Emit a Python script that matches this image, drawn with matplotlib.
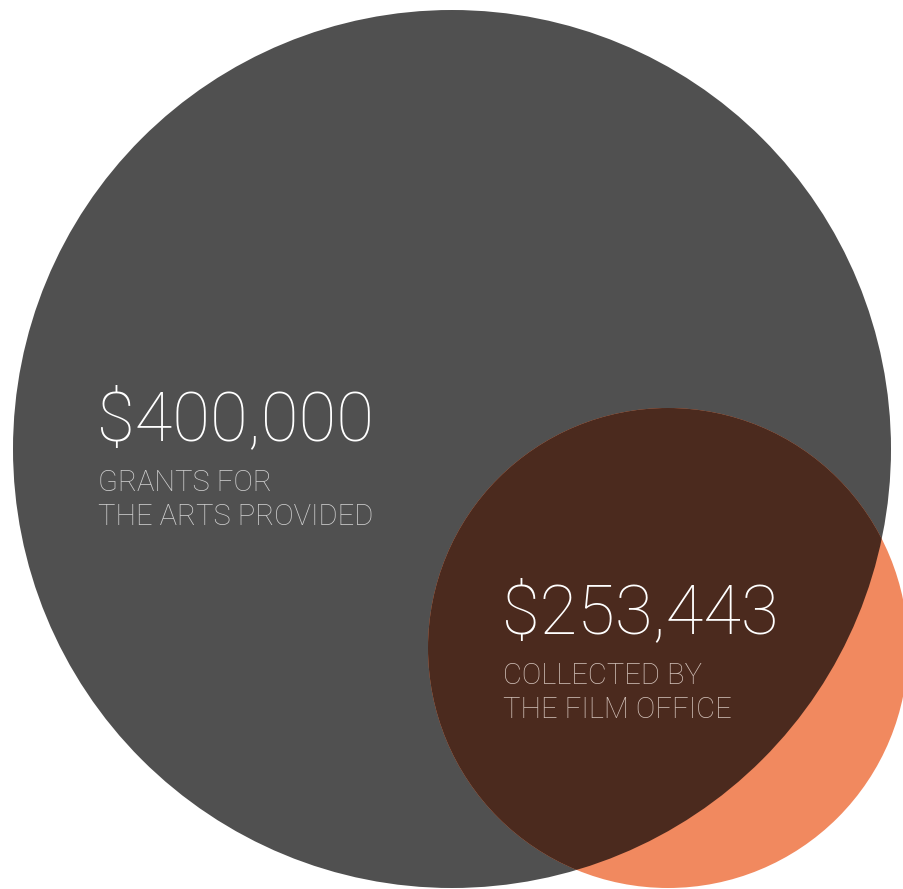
import matplotlib.pyplot as plt
from matplotlib.patches import Circle

# Two totals, drawn as overlapping discs
amounts = [400000, 253443]
captions = ["GRANTS FOR\nTHE ARTS PROVIDED", "COLLECTED BY\nTHE FILM OFFICE"]

# Disc layout in pixel units (x, y from the top-left corner)
centers = [(452, 449), (668, 648)]
radii = [439, 240]
fills = ["#505050", "#F1895F"]
overlap_color = "#4B2A1E"
caption_colors = ["#CFCFCF", "#D0BFB7"]
text_origin = [(99, 440), (504, 633)]

W, H = 904, 889
fig = plt.figure(figsize=(W / 100, H / 100), dpi=100)
ax = fig.add_axes([0, 0, 1, 1])
ax.set_xlim(0, W)
ax.set_ylim(H, 0)
ax.set_aspect("equal")
ax.axis("off")

big = Circle(centers[0], radii[0], color=fills[0], lw=0)
small = Circle(centers[1], radii[1], color=fills[1], lw=0)
ax.add_patch(big)
ax.add_patch(small)

# Intersection drawn darker, like a multiply blend
shared = Circle(centers[1], radii[1], color=overlap_color, lw=0)
ax.add_patch(shared)
shared.set_clip_path(big)

font = ["Roboto", "Lato", "DejaVu Sans"]
for val, cap, col, (x, y) in zip(amounts, captions, caption_colors, text_origin):
    ax.text(x - 2, y, f"${val:,}", color="white", fontsize=49.5, family=font,
            fontweight="light", va="baseline", ha="left")
    first, second = cap.split("\n")
    ax.text(x - 1, y + 51, first, color=col, fontsize=21, family=font,
            fontweight="light", va="baseline", ha="left")
    ax.text(x - 1, y + 85, second, color=col, fontsize=21, family=font,
            fontweight="light", va="baseline", ha="left")

fig.savefig("out.png", dpi=100)
